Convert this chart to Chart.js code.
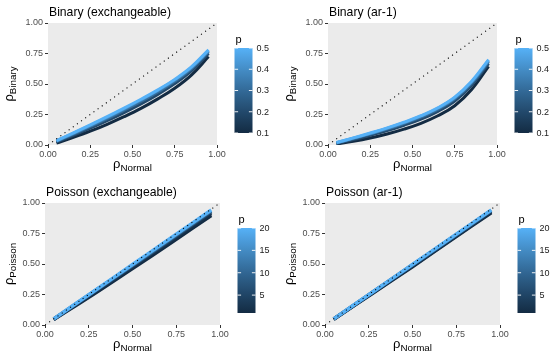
<!DOCTYPE html>
<html><head><meta charset="utf-8">
<script src="https://cdn.jsdelivr.net/npm/chart.js@4.4.0/dist/chart.umd.min.js"></script>
<style>
html,body{margin:0;padding:0;background:#fff;}
#wrap{position:relative;width:560px;height:360px;overflow:hidden;}
.cell{position:absolute;width:280px;height:180px;}
canvas{display:block;}
</style></head><body>
<div id="wrap">
<div class="cell" style="left:0;top:0"><canvas id="c0" width="280" height="180"></canvas></div>
<div class="cell" style="left:280px;top:0"><canvas id="c1" width="280" height="180"></canvas></div>
<div class="cell" style="left:0;top:180px"><canvas id="c2" width="280" height="180"></canvas></div>
<div class="cell" style="left:280px;top:180px"><canvas id="c3" width="280" height="180"></canvas></div>
</div>
<script>
// ---------------- data ----------------
const axisTicks = [0, 0.25, 0.5, 0.75, 1];

const binaryX = [0.05, 0.15, 0.25, 0.35, 0.45, 0.55, 0.65, 0.75, 0.85, 0.95];
const binaryP = [0.1, 0.2, 0.3, 0.4, 0.5];
const binaryExch = [
  [0.015, 0.062, 0.113, 0.170, 0.232, 0.300, 0.378, 0.465, 0.575, 0.725],
  [0.025, 0.080, 0.138, 0.200, 0.266, 0.337, 0.415, 0.503, 0.610, 0.750],
  [0.030, 0.090, 0.152, 0.216, 0.285, 0.357, 0.435, 0.522, 0.627, 0.764],
  [0.033, 0.096, 0.160, 0.226, 0.296, 0.369, 0.447, 0.533, 0.637, 0.773],
  [0.035, 0.100, 0.165, 0.232, 0.302, 0.375, 0.452, 0.538, 0.642, 0.780]
];
const binaryAr1 = [
  [0.008, 0.030, 0.057, 0.090, 0.130, 0.178, 0.240, 0.322, 0.455, 0.645],
  [0.013, 0.044, 0.080, 0.118, 0.162, 0.212, 0.276, 0.361, 0.490, 0.668],
  [0.017, 0.052, 0.090, 0.130, 0.176, 0.228, 0.292, 0.378, 0.506, 0.683],
  [0.019, 0.056, 0.095, 0.136, 0.183, 0.236, 0.301, 0.387, 0.516, 0.693],
  [0.020, 0.058, 0.098, 0.140, 0.187, 0.240, 0.305, 0.392, 0.522, 0.700]
];
const binaryLegendTicks = [0.1, 0.2, 0.3, 0.4, 0.5];

const poissonX = [0.05, 0.275, 0.50, 0.725, 0.95];
const poissonP = [1, 2, 5, 10, 20];
const poissonExch = [
  [0.045, 0.250, 0.463, 0.678, 0.898],
  [0.047, 0.259, 0.474, 0.693, 0.913],
  [0.048, 0.266, 0.485, 0.705, 0.928],
  [0.049, 0.270, 0.490, 0.712, 0.935],
  [0.050, 0.273, 0.496, 0.719, 0.943]
];
const poissonAr1 = [
  [0.047, 0.262, 0.478, 0.700, 0.920],
  [0.048, 0.266, 0.484, 0.706, 0.928],
  [0.049, 0.270, 0.490, 0.712, 0.935],
  [0.050, 0.272, 0.494, 0.716, 0.940],
  [0.050, 0.273, 0.496, 0.719, 0.943]
];
const poissonLegendTicks = [5, 10, 15, 20];

// ---------------- colour (ggplot gradient in Lab) ----------------
const LOW = '#132B43', HIGH = '#56B1F7';
function hexToRgb(h){return [parseInt(h.slice(1,3),16),parseInt(h.slice(3,5),16),parseInt(h.slice(5,7),16)];}
function s2l(c){c/=255;return c<=0.04045?c/12.92:Math.pow((c+0.055)/1.055,2.4);}
function l2s(c){const v=c<=0.0031308?12.92*c:1.055*Math.pow(c,1/2.4)-0.055;return Math.round(Math.max(0,Math.min(1,v))*255);}
const Xn=0.95047,Yn=1,Zn=1.08883,EPS=216/24389,KAP=24389/27;
function fl(t){return t>EPS?Math.cbrt(t):(KAP*t+16)/116;}
function fi(t){const t3=t*t*t;return t3>EPS?t3:(116*t-16)/KAP;}
function rgbToLab(rgb){const [r,g,b]=rgb.map(s2l);
  const X=0.4124564*r+0.3575761*g+0.1804375*b,Y=0.2126729*r+0.7151522*g+0.0721750*b,Z=0.0193339*r+0.1191920*g+0.9503041*b;
  const fx=fl(X/Xn),fy=fl(Y/Yn),fz=fl(Z/Zn);return [116*fy-16,500*(fx-fy),200*(fy-fz)];}
function labToRgb(lab){const fy=(lab[0]+16)/116,fx=fy+lab[1]/500,fz=fy-lab[2]/200;
  const X=Xn*fi(fx),Y=Yn*fi(fy),Z=Zn*fi(fz);
  const r=3.2404542*X-1.5371385*Y-0.4985314*Z,g=-0.9692660*X+1.8760108*Y+0.0415560*Z,b=0.0556434*X-0.2040259*Y+1.0572252*Z;
  return [l2s(r),l2s(g),l2s(b)];}
const labLow=rgbToLab(hexToRgb(LOW)), labHigh=rgbToLab(hexToRgb(HIGH));
function ramp(t){const l=labLow.map((v,i)=>v+(labHigh[i]-v)*t);const c=labToRgb(l);return `rgb(${c[0]},${c[1]},${c[2]})`;}

// ---------------- drawing ----------------
const FONT = '"Liberation Sans", Arial, Helvetica, sans-serif';
const PANEL_BG = '#EBEBEB';

function makePanel(id, cfg){
  const pMin = Math.min(...cfg.ps), pMax = Math.max(...cfg.ps);
  const n = cfg.series.length;
  const datasets = cfg.series.map((vals,i)=>({
    data: cfg.xs.map((x,j)=>({x:x,y:vals[j]})),
    borderColor: ramp((cfg.ps[i]-pMin)/(pMax-pMin)),
    borderWidth: cfg.lineWidth, pointRadius: 0, fill: false,
    tension: 0.4,
    order: n - i
  }));
  datasets.push({
    data: [{x:0,y:0},{x:1,y:1}],
    borderColor: '#000', borderWidth: 1.1, borderDash: [1.1, 4],
    pointRadius: 0, fill: false, order: -1
  });

  const panelPlugin = {
    id: 'panel'+id,
    beforeDraw(chart){
      const {ctx, chartArea:a} = chart;
      ctx.save();
      ctx.fillStyle = '#fff'; ctx.fillRect(0,0,chart.width,chart.height);
      ctx.fillStyle = PANEL_BG; ctx.fillRect(a.left,a.top,a.right-a.left,a.bottom-a.top);
      ctx.restore();
    },
    afterDraw(chart){
      const {ctx, chartArea:a} = chart;
      ctx.save();
      // title
      ctx.fillStyle = '#000'; ctx.textBaseline = 'alphabetic'; ctx.textAlign = 'left';
      ctx.font = `12.2px ${FONT}`;
      ctx.fillText(cfg.title, a.left + 1, 16);
      // x axis title
      const S = 13, s = 9.8;
      ctx.font = `${S}px ${FONT}`; const wr = ctx.measureText('ρ').width;
      ctx.font = `${s}px ${FONT}`; const wx = ctx.measureText('Normal').width;
      let x0 = (a.left + a.right)/2 - (wr + wx)/2;
      ctx.font = `${S}px ${FONT}`; ctx.fillText('ρ', x0, 168);
      ctx.font = `${s}px ${FONT}`; ctx.fillText('Normal', x0 + wr, 171);
      // y axis title
      ctx.font = `${s}px ${FONT}`; const wy = ctx.measureText(cfg.ysub).width;
      ctx.save();
      ctx.translate(13, (a.top + a.bottom)/2);
      ctx.rotate(-Math.PI/2);
      const y0 = -(wr + wy)/2;
      ctx.font = `${S}px ${FONT}`; ctx.fillText('ρ', y0, 0);
      ctx.font = `${s}px ${FONT}`; ctx.fillText(cfg.ysub, y0 + wr, 3);
      ctx.restore();
      // colour bar
      const cbL = cfg.cbLeft, cbW = 18, cbT = 48, cbB = 133;
      const grad = ctx.createLinearGradient(0, cbB, 0, cbT);
      for (let k=0;k<=20;k++){ grad.addColorStop(k/20, ramp(k/20)); }
      ctx.fillStyle = grad; ctx.fillRect(cbL, cbT, cbW, cbB-cbT);
      ctx.font = `11px ${FONT}`; ctx.fillStyle = '#000';
      ctx.fillText('p', cbL + 1, 43);
      ctx.font = `9px ${FONT}`; ctx.textBaseline = 'middle';
      cfg.legendTicks.forEach(v=>{
        const yy = cbB - (v - pMin)/(pMax - pMin)*(cbB - cbT);
        ctx.strokeStyle = 'rgba(255,255,255,0.9)'; ctx.lineWidth = 1;
        ctx.beginPath();
        ctx.moveTo(cbL, yy); ctx.lineTo(cbL + 3.6, yy);
        ctx.moveTo(cbL + cbW - 3.6, yy); ctx.lineTo(cbL + cbW, yy);
        ctx.stroke();
        ctx.fillStyle = '#1A1A1A';
        ctx.fillText(cfg.legendFmt(v), cbL + cbW + 4, yy + 0.5);
      });
      ctx.restore();
    }
  };

  const tickFont = {family: FONT, size: 9};
  const gridCfg = {drawOnChartArea:false, drawTicks:true, tickLength:3, tickColor:'#333333', tickWidth:1};
  new Chart(document.getElementById(id), {
    type: 'line',
    data: {datasets},
    options: {
      responsive: false, animation: false, devicePixelRatio: 1,
      layout: {padding: {left: 0, top: 23, right: 280 - cfg.plotRight, bottom: 0}},
      plugins: {legend:{display:false}, tooltip:{enabled:false}, title:{display:false}},
      scales: {
        x: {type:'linear', min:0, max:1,
            afterBuildTicks: sc => { sc.ticks = axisTicks.map(v=>({value:v})); },
            afterFit: sc => { sc.height = 35; },
            grid: gridCfg, border: {display:false},
            ticks: {color:'#4D4D4D', font:tickFont, padding:1, maxRotation:0, autoSkip:false,
                    callback: v => Number(v).toFixed(2)}},
        y: {type:'linear', min:0, max:1,
            afterBuildTicks: sc => { sc.ticks = axisTicks.map(v=>({value:v})); },
            afterFit: sc => { sc.width = cfg.plotLeft; },
            grid: gridCfg, border: {display:false},
            ticks: {color:'#4D4D4D', font:tickFont, padding:2, autoSkip:false,
                    callback: v => Number(v).toFixed(2)}}
      }
    },
    plugins: [panelPlugin]
  });
}

makePanel('c0', {title:'Binary (exchangeable)', ysub:'Binary', xs:binaryX, ps:binaryP, series:binaryExch, lineWidth:3,
  legendTicks:binaryLegendTicks, legendFmt:v=>v.toFixed(1), plotLeft:48, plotRight:217, cbLeft:234.5});
makePanel('c1', {title:'Binary (ar-1)', ysub:'Binary', xs:binaryX, ps:binaryP, series:binaryAr1, lineWidth:3,
  legendTicks:binaryLegendTicks, legendFmt:v=>v.toFixed(1), plotLeft:48, plotRight:217, cbLeft:234.5});
makePanel('c2', {title:'Poisson (exchangeable)', ysub:'Poisson', xs:poissonX, ps:poissonP, series:poissonExch, lineWidth:3.5,
  legendTicks:poissonLegendTicks, legendFmt:v=>String(v), plotLeft:45, plotRight:220, cbLeft:237.5});
makePanel('c3', {title:'Poisson (ar-1)', ysub:'Poisson', xs:poissonX, ps:poissonP, series:poissonAr1, lineWidth:3.5,
  legendTicks:poissonLegendTicks, legendFmt:v=>String(v), plotLeft:45, plotRight:220, cbLeft:237.5});
</script>
</body></html>
